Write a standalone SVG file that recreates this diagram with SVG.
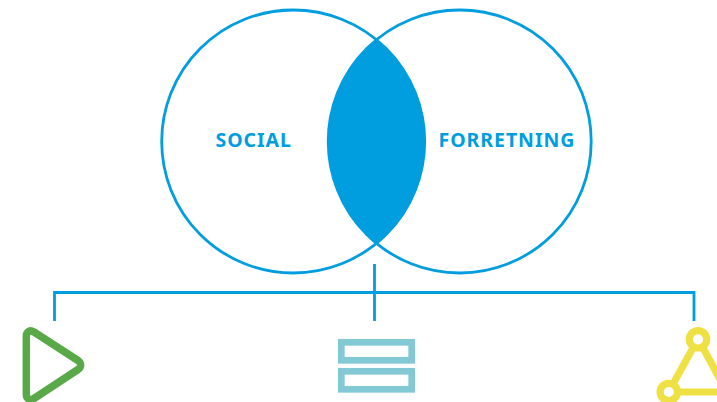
<svg xmlns="http://www.w3.org/2000/svg" width="717" height="402" viewBox="0 0 717 402">
<style>
.c{fill:none;stroke:#009ddf;stroke-width:2.8}
.l{font-family:"Noto Sans","Open Sans",sans-serif;font-weight:700;font-size:19.500px;letter-spacing:.95px;fill:#009ddf}
.k{fill:none;stroke:#009ddf;stroke-width:2.800}
.r{fill:none;stroke:#82c8d5;stroke-width:6.700}
.y{fill:none;stroke:#efe044;stroke-width:7.200}
</style>
<rect width="717" height="402" fill="#fff"/>
<g id="venn-overlap"><path d="M376.500 39.700A131.500 131.500 0 0 1 376.500 243.300A131.500 131.500 0 0 1 376.500 39.700Z" fill="#009ddf"/></g>
<g id="social"><circle class="c" cx="293.200" cy="141.500" r="131.500"/><text class="l" x="215.500" y="147">SOCIAL</text></g>
<g id="forretning"><circle class="c" cx="459.700" cy="141.500" r="131.500"/><text class="l" x="438.500" y="147">FORRETNING</text></g>
<g id="connectors">
<path class="k" d="M54.500 321V292.500H694V321M374.500 264V321"/>
</g>
<g id="play-icon"><path d="M26.300 336.500C26.300 331.500 30 329.500 34 332L78 360.500C81.500 363 81.500 367 78 369.500L34 398.500C30 401 26.300 399 26.300 394Z" fill="none" stroke="#5aa949" stroke-width="7.500" stroke-linejoin="round"/></g>
<g id="stack-icon"><rect class="r" x="341.300" y="342.300" width="70.400" height="18"/><rect class="r" x="341.300" y="371.300" width="70.400" height="18"/></g>
<g id="triangle-icon"><path class="y" d="M693.500 347L673 384M677.500 392H727M702.500 347L727 392"/><circle class="y" cx="698" cy="339.300" r="8.700"/><circle class="y" cx="668.800" cy="392" r="8.700"/></g>
</svg>
